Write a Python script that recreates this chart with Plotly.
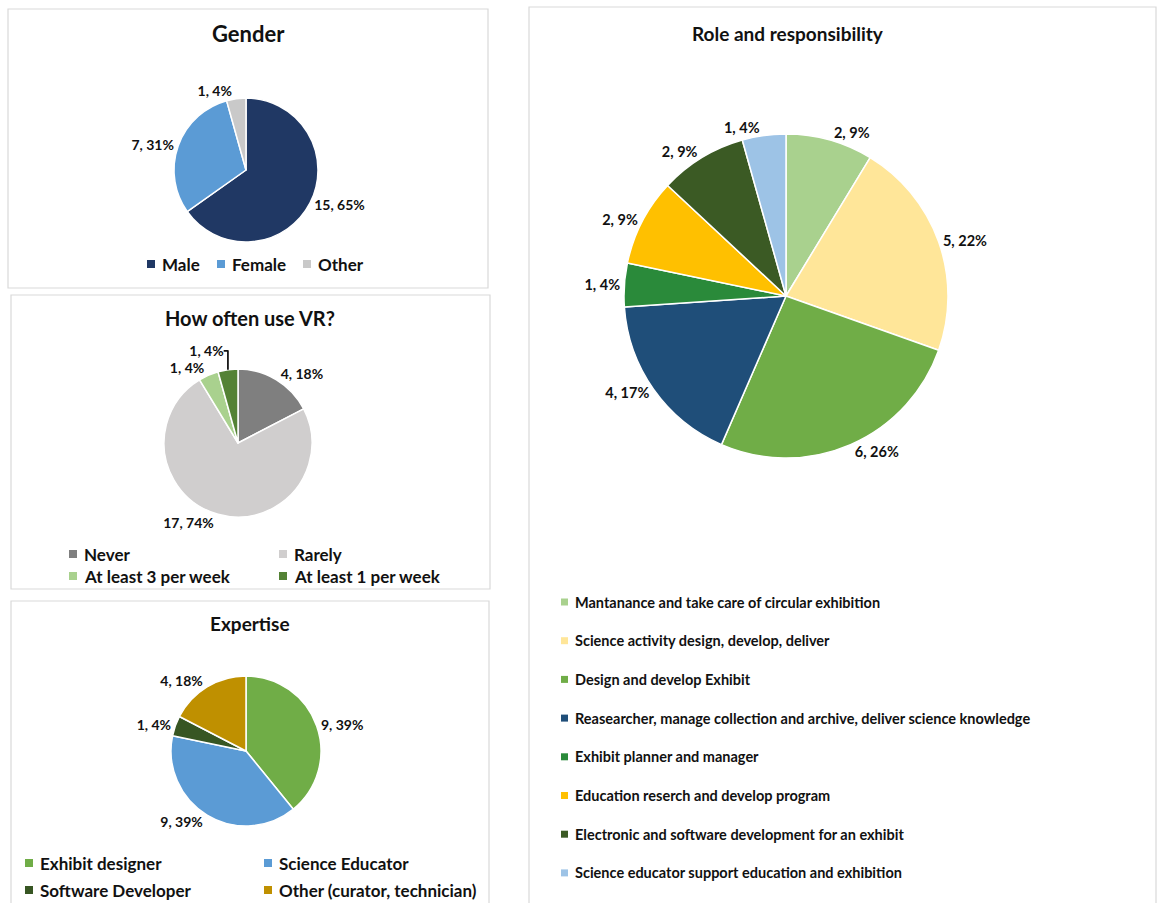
import plotly.graph_objects as go

# ---- survey data -------------------------------------------------------
gender_labels = ["Male", "Female", "Other"]
gender_values = [15, 7, 1]
gender_pct = ["65%", "31%", "4%"]
gender_colors = ["#203864", "#5B9BD5", "#C9C9C9"]

vr_labels = ["Never", "Rarely", "At least 3 per week", "At least 1 per week"]
vr_values = [4, 17, 1, 1]
vr_pct = ["18%", "74%", "4%", "4%"]
vr_colors = ["#7F7F7F", "#D0CECE", "#A9D18E", "#548235"]

exp_labels = ["Exhibit designer", "Science Educator", "Software Developer",
              "Other (curator, technician)"]
exp_values = [9, 9, 1, 4]
exp_pct = ["39%", "39%", "4%", "18%"]
exp_colors = ["#70AD47", "#5B9BD5", "#375623", "#BF9000"]

role_labels = [
    "Mantanance and take care of circular exhibition",
    "Science activity design, develop, deliver",
    "Design and develop Exhibit",
    "Reasearcher, manage collection and archive, deliver science knowledge",
    "Exhibit planner and manager",
    "Education reserch and develop program",
    "Electronic and software development for an exhibit",
    "Science educator support education and exhibition",
]
role_values = [2, 5, 6, 4, 1, 2, 2, 1]
role_pct = ["9%", "22%", "26%", "17%", "4%", "9%", "9%", "4%"]
role_colors = ["#A9D18E", "#FFE699", "#70AD47", "#1F4E79",
               "#2A8A3A", "#FFC000", "#3B5A24", "#9DC3E6"]

# ---- page geometry (pixels) --------------------------------------------
W, H = 1157, 903
FONT = "Lato"
INK = "#111111"


def px(x):
    return x / W


def py(y):
    return 1 - y / H


def pie(labels, values, pct, colors, cx, cy, r, size):
    return go.Pie(
        labels=labels, values=values, text=pct,
        texttemplate="<b>%{value}, %{text}</b>", textposition="outside",
        textfont=dict(family=FONT, size=size, color=INK),
        marker=dict(colors=colors, line=dict(color="white", width=1.5)),
        sort=False, direction="clockwise", rotation=0,
        domain=dict(x=[px(cx - r), px(cx + r)], y=[py(cy + r), py(cy - r)]),
        showlegend=False, hoverinfo="label+value",
    )


fig = go.Figure()
fig.add_trace(pie(gender_labels, gender_values, gender_pct, gender_colors, 246, 170, 72, 14))
fig.add_trace(pie(vr_labels, vr_values, vr_pct, vr_colors, 238, 443, 74, 14))
fig.add_trace(pie(exp_labels, exp_values, exp_pct, exp_colors, 246, 751, 75, 14))
fig.add_trace(pie(role_labels, role_values, role_pct, role_colors, 786, 296, 162, 14.5))

shapes = []
annotations = []

# panel frames
for x0, y0, x1, y1 in [(8, 9, 488, 288), (11, 295, 490, 589),
                       (11, 601, 489, 910), (529, 7, 1156, 910)]:
    shapes.append(dict(type="rect", xref="paper", yref="paper",
                       x0=px(x0), x1=px(x1), y0=py(y1), y1=py(y0),
                       line=dict(color="#D9D9D9", width=1.2), layer="below"))

# panel titles
for text, x, y, size in [("Gender", 248, 33, 22), ("How often use VR?", 250, 318, 20),
                         ("Expertise", 250, 623, 19), ("Role and responsibility", 788, 33, 19)]:
    annotations.append(dict(text=f"<b>{text}</b>", xref="paper", yref="paper",
                            x=px(x), y=py(y), xanchor="center", yanchor="middle",
                            showarrow=False, font=dict(family=FONT, size=size, color=INK)))


def legend_items(labels, colors, positions, sq, size):
    for lab, col, (x, y) in zip(labels, colors, positions):
        shapes.append(dict(type="rect", xref="paper", yref="paper",
                           x0=px(x), x1=px(x + sq), y0=py(y + sq / 2), y1=py(y - sq / 2),
                           fillcolor=col, line=dict(width=0)))
        annotations.append(dict(text=f"<b>{lab}</b>", xref="paper", yref="paper",
                                x=px(x + sq + 5), y=py(y), xanchor="left", yanchor="middle",
                                showarrow=False,
                                font=dict(family=FONT, size=size, color=INK)))


legend_items(gender_labels, gender_colors, [(147, 264), (217, 264), (303, 264)], 8, 17)
legend_items(vr_labels, vr_colors, [(69, 554), (279, 554), (69, 576), (279, 576)], 8, 17)
legend_items(exp_labels, exp_colors, [(25, 863), (264, 863), (25, 890), (264, 890)], 8, 17)
legend_items(role_labels, role_colors,
             [(561, 602 + i * 38.7) for i in range(len(role_labels))], 7, 14.5)

fig.update_layout(
    width=W, height=H,
    margin=dict(l=0, r=0, t=0, b=0),
    paper_bgcolor="white", plot_bgcolor="white",
    font=dict(family=FONT),
    shapes=shapes, annotations=annotations,
)

fig.write_html("out.html")
